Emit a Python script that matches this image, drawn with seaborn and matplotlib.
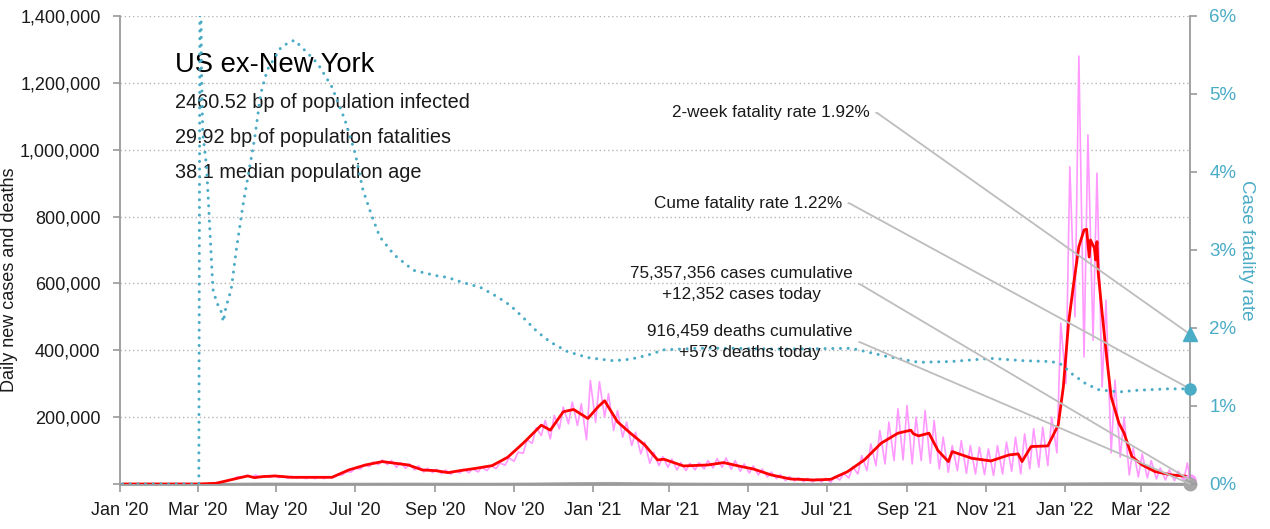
import pandas as pd
import matplotlib
matplotlib.use("Agg")
import matplotlib.pyplot as plt
import matplotlib.dates as mdates
from matplotlib.ticker import FuncFormatter, MultipleLocator
from matplotlib import font_manager
import seaborn as sns

# ---------------- data ----------------
# 7-day average of daily new cases (thousands)
avg_dates = ["2020-01-03", "2020-03-01", "2020-03-15", "2020-03-24", "2020-04-04", "2020-04-09",
             "2020-04-14", "2020-04-20", "2020-04-30", "2020-05-13", "2020-06-13", "2020-06-26",
             "2020-07-09", "2020-07-22", "2020-07-30", "2020-08-11", "2020-08-22", "2020-09-01",
             "2020-09-11", "2020-09-20", "2020-10-01", "2020-10-15", "2020-10-27", "2020-11-08",
             "2020-11-22", "2020-11-29", "2020-12-09", "2020-12-17", "2020-12-28", "2021-01-05",
             "2021-01-10", "2021-01-20", "2021-01-30", "2021-02-10", "2021-02-20", "2021-02-25",
             "2021-03-12", "2021-03-31", "2021-04-12", "2021-04-26", "2021-05-05", "2021-05-19",
             "2021-06-03", "2021-06-21", "2021-07-04", "2021-07-17", "2021-07-30", "2021-08-12",
             "2021-08-25", "2021-09-04", "2021-09-06", "2021-09-10", "2021-09-18", "2021-09-25",
             "2021-10-03", "2021-10-06", "2021-10-21", "2021-11-05", "2021-11-19", "2021-11-26",
             "2021-11-29", "2021-12-06", "2021-12-19", "2021-12-27", "2021-12-31", "2022-01-04",
             "2022-01-08", "2022-01-12", "2022-01-16", "2022-01-18", "2022-01-20", "2022-01-21",
             "2022-01-24", "2022-01-25", "2022-01-26", "2022-01-27", "2022-01-30", "2022-02-03",
             "2022-02-06", "2022-02-12", "2022-02-16", "2022-02-22", "2022-03-02", "2022-03-12",
             "2022-03-25", "2022-04-08"]
avg_cases_k = [0, 0, 2, 10, 20, 24,
               19, 22, 24, 20, 20, 42,
               57, 67, 63, 57, 42, 40,
               34, 40, 46, 55, 80, 122,
               176, 161, 216, 223, 196, 231,
               249, 186, 152, 117, 72, 74,
               54, 57, 64, 52, 45, 27,
               15, 12, 14, 37, 72, 122,
               152, 161, 150, 144, 152, 100,
               67, 97, 77, 69, 87, 90,
               67, 112, 114, 176, 291, 481,
               600, 710, 760, 762, 679, 730,
               706, 670, 725, 631, 511, 362,
               261, 182, 152, 82, 57, 37,
               27, 22]

# raw daily new cases (thousands): weekly Sunday lows and Wednesday highs from 2020-03-01
raw_start_low = "2020-03-01"
raw_start_high = "2020-03-04"
raw_low_k = [0, 0.3, 2, 7, 15, 19, 20, 19, 20, 19,
             17, 17, 16, 16, 16, 19, 27, 36, 45, 52,
             58, 58, 50, 47, 42, 36, 34, 31, 29, 33,
             34, 36, 40, 46, 56, 68, 92, 122, 145, 135,
             165, 180, 175, 132, 185, 200, 160, 140, 115, 90,
             62, 55, 50, 42, 40, 42, 45, 48, 50, 44,
             38, 33, 27, 21, 16, 10, 9, 7, 6, 6,
             5, 12, 18, 30, 40, 55, 60, 70, 72, 60,
             70, 62, 45, 35, 40, 32, 30, 28, 25, 30,
             38, 30, 45, 50, 55, 93, 300, 500, 380, 430,
             290, 93, 80, 27, 21, 18, 15, 12, 10, 10]
raw_high_k = [0.1, 1, 4, 12, 22, 26, 27, 25, 26, 24,
              23, 22, 21, 21, 22, 26, 36, 47, 57, 66,
              72, 70, 64, 60, 54, 47, 44, 42, 39, 44,
              46, 50, 55, 63, 78, 95, 132, 168, 190, 205,
              230, 245, 240, 310, 306, 270, 220, 185, 155, 125,
              95, 82, 75, 64, 62, 64, 70, 76, 78, 70,
              60, 54, 45, 36, 28, 22, 19, 17, 16, 17,
              22, 32, 52, 85, 120, 160, 185, 225, 235, 200,
              220, 190, 140, 115, 130, 115, 110, 105, 115, 125,
              140, 150, 165, 170, 200, 481, 949, 1280, 1044, 930,
              550, 311, 200, 108, 90, 70, 48, 42, 38, 63]

# daily deaths (thousands)
death_dates = ["2020-01-03", "2020-03-01", "2020-03-15", "2020-04-15", "2020-05-15", "2020-06-15",
               "2020-07-15", "2020-08-15", "2020-09-15", "2020-10-15", "2020-11-15", "2020-12-15",
               "2021-01-15", "2021-02-15", "2021-03-15", "2021-04-15", "2021-05-15", "2021-06-15",
               "2021-07-15", "2021-08-15", "2021-09-15", "2021-10-15", "2021-11-15", "2021-12-15",
               "2022-01-15", "2022-02-15", "2022-03-15", "2022-04-08"]
deaths_k = [0, 0, 0.02, 1.3, 1.1, 0.6,
            0.8, 1.0, 0.75, 0.7, 1.2, 2.4,
            3.1, 2.0, 1.0, 0.65, 0.55, 0.3,
            0.25, 0.8, 1.8, 1.4, 1.0, 1.2,
            1.9, 2.3, 1.0, 0.573]

# case fatality rate (%)
cfr_dates = ["2020-01-03", "2020-03-02", "2020-03-03", "2020-03-04", "2020-03-05", "2020-03-08",
             "2020-03-10", "2020-03-12", "2020-03-13", "2020-03-16", "2020-03-19", "2020-03-21",
             "2020-03-23", "2020-03-27", "2020-03-31", "2020-04-05", "2020-04-09", "2020-04-14",
             "2020-04-19", "2020-04-24", "2020-05-05", "2020-05-15", "2020-05-23", "2020-06-02",
             "2020-06-13", "2020-06-23", "2020-07-01", "2020-07-07", "2020-07-14", "2020-07-20",
             "2020-07-31", "2020-08-15", "2020-09-02", "2020-09-10", "2020-09-23", "2020-10-06",
             "2020-10-19", "2020-10-29", "2020-11-07", "2020-11-19", "2020-11-29", "2020-12-12",
             "2020-12-28", "2021-01-17", "2021-01-30", "2021-02-12", "2021-02-25", "2021-03-23",
             "2021-04-18", "2021-05-26", "2021-07-20", "2021-08-15", "2021-09-10", "2021-10-05",
             "2021-11-05", "2021-12-01", "2021-12-22", "2021-12-30", "2022-01-06", "2022-01-17",
             "2022-01-27", "2022-02-12", "2022-02-25", "2022-03-22", "2022-04-08"]
cfr_pct = [0, 0, 7.5, 5.4, 4.5, 4.07,
           3.43, 2.79, 2.49, 2.32, 2.23, 2.08,
           2.27, 2.49, 3.0, 3.56, 3.94, 4.41,
           5.01, 5.31, 5.61, 5.69, 5.56, 5.39,
           5.09, 4.67, 4.24, 3.77, 3.43, 3.17,
           2.94, 2.74, 2.67, 2.65, 2.58, 2.52,
           2.40, 2.29, 2.15, 1.95, 1.82, 1.70,
           1.62, 1.58, 1.60, 1.65, 1.72, 1.74,
           1.74, 1.73, 1.74, 1.64, 1.56, 1.57,
           1.61, 1.58, 1.57, 1.53, 1.42, 1.29,
           1.21, 1.18, 1.20, 1.22, 1.22]

# headline figures
region = "US ex-New York"
bp_infected = 2460.52
bp_fatalities = 29.92
median_age = 38.1
cfr_2week = 1.92
cfr_cume = 1.22
cases_cumulative = 75357356
cases_today = 12352
deaths_cumulative = 916459
deaths_today = 573
end_date = "2022-04-08"
x_start = "2020-01-01"

# ---------------- styling ----------------
PINK = "#ff99ff"
RED = "#ff0000"
TEAL = "#4bacc6"
GREY = "#a6a6a6"
SPINE = "#9a9a9a"
LEADER = "#bdbdbd"
TXT = "#1a1a1a"

sns.set_theme(style="white")
names = {f.name for f in font_manager.fontManager.ttflist}
NARROW_OK = "Liberation Sans Narrow" in names
NARROW = "Liberation Sans Narrow" if NARROW_OK else "Liberation Sans"
SCALE = 1.0 if NARROW_OK else 0.82
plt.rcParams["font.family"] = ["Liberation Sans", "DejaVu Sans"]

# ---------------- build frames ----------------
end = pd.Timestamp(end_date)
end_num = mdates.date2num(end)
avg_df = pd.DataFrame({"date": pd.to_datetime(avg_dates), "cases": [v * 1000 for v in avg_cases_k]})
low_df = pd.DataFrame({"date": pd.date_range(raw_start_low, periods=len(raw_low_k), freq="7D"),
                       "cases": [v * 1000 for v in raw_low_k]})
high_df = pd.DataFrame({"date": pd.date_range(raw_start_high, periods=len(raw_high_k), freq="7D"),
                        "cases": [v * 1000 for v in raw_high_k]})
edge_df = pd.DataFrame({"date": pd.to_datetime(["2020-01-03", end_date]), "cases": [0, cases_today]})
raw_df = pd.concat([edge_df, low_df, high_df]).sort_values("date").reset_index(drop=True)
death_df = pd.DataFrame({"date": pd.to_datetime(death_dates), "deaths": [v * 1000 for v in deaths_k]})
cfr_df = pd.DataFrame({"date": pd.to_datetime(cfr_dates), "cfr": cfr_pct})

# ---------------- figure ----------------
fig = plt.figure(figsize=(12.7, 5.29), dpi=100)
ax = fig.add_axes([120 / 1270, 45 / 529, 1070 / 1270, 468 / 529])
ax2 = ax.twinx()

sns.lineplot(data=raw_df, x="date", y="cases", ax=ax, color=PINK, linewidth=1.2,
             estimator=None, sort=False, zorder=2)
sns.lineplot(data=death_df, x="date", y="deaths", ax=ax, color=GREY, linewidth=1.5,
             estimator=None, sort=False, zorder=2)
sns.lineplot(data=avg_df, x="date", y="cases", ax=ax, color=RED, linewidth=2.0,
             estimator=None, sort=False, zorder=3)
sns.lineplot(data=cfr_df, x="date", y="cfr", ax=ax2, color=TEAL, linewidth=2.2,
             estimator=None, sort=False)
ax2.lines[-1].set_linestyle((0, (0.01, 2.5)))
ax2.lines[-1].set_dash_capstyle("round")

# end markers
ax.plot([end_num], [cases_today], marker="o", markersize=8, color=PINK, clip_on=False, zorder=5)
ax.plot([end_num], [deaths_today], marker="o", markersize=9, color=GREY, clip_on=False, zorder=6)
ax2.plot([end_num], [cfr_2week], marker="^", markersize=10, color=TEAL, clip_on=False, zorder=6)
ax2.plot([end_num], [cfr_cume], marker="o", markersize=8, color=TEAL, clip_on=False, zorder=6)

# ---------------- axes ----------------
ax.set_xlim(mdates.date2num(pd.Timestamp(x_start)), end_num)
ax.set_ylim(0, 1400000)
ax2.set_ylim(0, 6)
ax.yaxis.set_major_locator(MultipleLocator(200000))
ax.yaxis.set_major_formatter(FuncFormatter(lambda v, _: "" if v == 0 else f"{v:,.0f}"))
ax2.yaxis.set_major_locator(MultipleLocator(1))
ax2.yaxis.set_major_formatter(FuncFormatter(lambda v, _: f"{v:.0f}%"))
ax.xaxis.set_major_locator(mdates.MonthLocator(bymonth=[1, 3, 5, 7, 9, 11]))
ax.xaxis.set_major_formatter(mdates.DateFormatter("%b '%y"))

ax.set_xlabel("")
ax.set_ylabel("Daily new cases and deaths", fontsize=13, color=TXT)
ax.yaxis.set_label_coords(-0.0953, 0.436)
ax2.set_ylabel("Case fatality rate", fontsize=13.5, color=TEAL, rotation=270, va="bottom")
ax2.yaxis.set_label_coords(1.045, 0.5)

ax.yaxis.grid(True, linestyle=(0, (1, 2)), color="#b5b5b5", linewidth=1.0)
ax.xaxis.grid(False)
ax2.grid(False)

for s in ["top", "right"]:
    ax.spines[s].set_visible(False)
for s in ["top", "left", "bottom"]:
    ax2.spines[s].set_visible(False)
ax.spines["left"].set_color(SPINE)
ax.spines["left"].set_linewidth(1.3)
ax.spines["bottom"].set_color(SPINE)
ax.spines["bottom"].set_linewidth(2.0)
ax2.spines["right"].set_color(SPINE)
ax2.spines["right"].set_linewidth(1.3)

ax.tick_params(axis="y", direction="out", length=5, width=1.2, color=SPINE, pad=9,
               labelsize=13, labelcolor=TXT, left=True)
ax.tick_params(axis="x", direction="out", length=6, width=1.2, color=SPINE, pad=7,
               labelsize=13, labelcolor=TXT, bottom=True)
ax2.tick_params(axis="y", direction="out", length=5, width=1.2, color=SPINE, pad=9,
                labelsize=13.5, labelcolor=TEAL, right=True)

# ---------------- text ----------------
ax.text(0.0514, 0.880, region, transform=ax.transAxes, fontsize=24 * SCALE, family=NARROW,
        color="#000000", va="baseline", ha="left")
info = [f"{bp_infected:.2f} bp of population infected",
        f"{bp_fatalities:.2f} bp of population fatalities",
        f"{median_age:.1f} median population age"]
for yy, line in zip([0.803, 0.729, 0.654], info):
    ax.text(0.0514, yy, line, transform=ax.transAxes, fontsize=17.5 * SCALE, family=NARROW,
            color=TXT, va="baseline", ha="left")


def leader(text, xy, xycoords, xytext):
    ax2.annotate(text, xy=xy, xycoords=xycoords, xytext=xytext, textcoords="axes fraction",
                 ha="right", va="center", multialignment="center", fontsize=15.5 * SCALE * 0.97,
                 family=NARROW, color=TXT, linespacing=1.5, zorder=4,
                 arrowprops=dict(arrowstyle="-", color=LEADER, lw=1.3, relpos=(1, 0.5),
                                 shrinkA=2, shrinkB=0,
                                 connectionstyle="arc,angleA=0,angleB=0,armA=7,armB=0,rad=0"))


leader(f"2-week fatality rate {cfr_2week:.2f}%", (end_num, cfr_2week), ax2.transData, (0.701, 0.793))
leader(f"Cume fatality rate {cfr_cume:.2f}%", (end_num, cfr_cume), ax2.transData, (0.675, 0.600))
leader(f"{cases_cumulative:,} cases cumulative\n+{cases_today:,} cases today",
       (end_num, cases_today), ax.transData, (0.685, 0.427))
leader(f"{deaths_cumulative:,} deaths cumulative\n+{deaths_today:,} deaths today",
       (end_num, deaths_today), ax.transData, (0.685, 0.303))

fig.savefig("out.png", dpi=100)
